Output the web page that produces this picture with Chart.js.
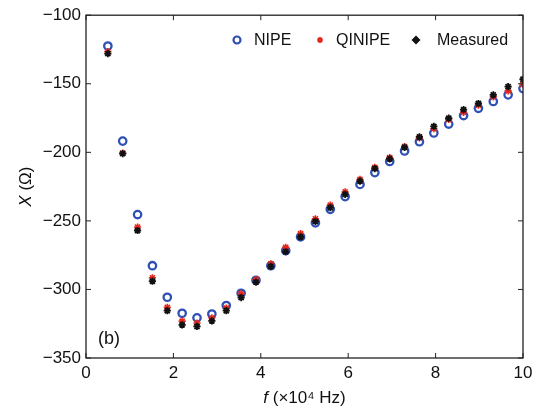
<!DOCTYPE html>
<html><head><meta charset="utf-8">
<script src="https://cdn.jsdelivr.net/npm/chart.js@4/dist/chart.umd.min.js"></script>
<style>html,body{margin:0;padding:0;background:#fff}#wrap{width:541px;height:411px}</style>
</head><body><div id="wrap"><canvas id="c" width="541" height="411"></canvas></div>
<script>
// Frequency (×10^4 Hz)
const frequencies = [0.5, 0.84, 1.18, 1.52, 1.86, 2.2, 2.54, 2.88, 3.21, 3.55, 3.89, 4.23, 4.57, 4.91, 5.25, 5.59, 5.93, 6.27, 6.61, 6.95, 7.29, 7.63, 7.96, 8.30, 8.64, 8.98, 9.32, 9.66, 10];
// Reactance X (Ω)
const nipe = [-122.5, -191.8, -245.4, -282.7, -305.7, -317.4, -320.7, -317.9, -311.7, -302.8, -293.3, -282.7, -271.7, -261.7, -251.4, -241.6, -232.3, -223.4, -214.8, -206.7, -199.0, -192.3, -185.9, -179.4, -173.2, -167.9, -162.9, -158.1, -153.5];
const qinipe = [-126.5, -200.5, -254.5, -291.5, -313.0, -323.1, -324.5, -320.7, -313.6, -303.0, -292.8, -281.3, -269.3, -259.3, -248.5, -238.5, -228.9, -219.8, -211.0, -203.8, -195.9, -189.5, -182.8, -176.0, -170.8, -165.6, -159.5, -155.2, -150.5];
const measured = [-128.0, -201.0, -257.0, -294.0, -315.5, -325.8, -327.0, -322.9, -315.5, -305.9, -294.7, -283.2, -272.5, -261.7, -250.4, -240.4, -230.6, -221.0, -211.9, -204.8, -196.4, -188.7, -181.1, -175.1, -168.9, -164.4, -158.1, -152.1, -146.7];
const seriesNames = ['NIPE', 'QINIPE', 'Measured'];
const xTicks = [0, 2, 4, 6, 8, 10];
const yTicks = [-350, -300, -250, -200, -150, -100];

const FONT = '"Liberation Sans", Arial, sans-serif';
const BLUE = '#2f50b4', RED = '#e5281c', BLACK = '#111111';
const toPts = ys => frequencies.map((f, i) => ({x: f, y: ys[i]}));
const fmt = v => String(v).replace('-', '\u2212');

const decor = {
  id: 'decor',
  afterDraw(chart) {
    const ctx = chart.ctx, a = chart.chartArea;
    const xs = chart.scales.x, ys = chart.scales.y;
    ctx.save();
    ctx.strokeStyle = '#222'; ctx.lineWidth = 1.3;
    ctx.strokeRect(a.left, a.top, a.right - a.left, a.bottom - a.top);
    ctx.lineWidth = 1;
    ctx.beginPath();
    xTicks.forEach(v => { const p = xs.getPixelForValue(v);
      ctx.moveTo(p, a.bottom); ctx.lineTo(p, a.bottom - 5);
      ctx.moveTo(p, a.top); ctx.lineTo(p, a.top + 5); });
    yTicks.forEach(v => { const p = ys.getPixelForValue(v);
      ctx.moveTo(a.left, p); ctx.lineTo(a.left + 5, p);
      ctx.moveTo(a.right, p); ctx.lineTo(a.right - 5, p); });
    ctx.stroke();

    ctx.fillStyle = '#111';
    // panel label
    ctx.font = '18px ' + FONT; ctx.textAlign = 'left'; ctx.textBaseline = 'alphabetic';
    ctx.fillText('(b)', a.left + 12, a.bottom - 14);

    // x title
    const cx = (a.left + a.right) / 2, by = 403;
    ctx.font = 'italic 17px ' + FONT; const wf = ctx.measureText('f').width;
    ctx.font = '17px ' + FONT; const rest = ' (\u00d710\u2074 Hz)'; const wr = ctx.measureText(rest).width;
    let sx = cx - (wf + wr) / 2;
    ctx.font = 'italic 17px ' + FONT; ctx.fillText('f', sx, by);
    ctx.font = '17px ' + FONT; ctx.fillText(rest, sx + wf, by);

    // y title
    ctx.save();
    ctx.translate(31, (a.top + a.bottom) / 2); ctx.rotate(-Math.PI / 2);
    ctx.font = 'italic 17px ' + FONT; const wX = ctx.measureText('X').width;
    ctx.font = '17px ' + FONT; const wO = ctx.measureText(' (\u03a9)').width;
    sx = -(wX + wO) / 2;
    ctx.font = 'italic 17px ' + FONT; ctx.fillText('X', sx, 0);
    ctx.font = '17px ' + FONT; ctx.fillText(' (\u03a9)', sx + wX, 0);
    ctx.restore();

    // legend
    const ly = 40;
    ctx.font = '16px ' + FONT; ctx.textBaseline = 'middle';
    const items = [[237, 254], [320, 336], [416, 437]];
    // NIPE circle
    ctx.strokeStyle = BLUE; ctx.lineWidth = 2.2;
    ctx.beginPath(); ctx.arc(items[0][0], ly, 3.5, 0, Math.PI * 2); ctx.stroke();
    // QINIPE star
    ctx.strokeStyle = RED; ctx.lineWidth = 1.6;
    ctx.beginPath();
    const r = 3;
    [[r,0],[0,r],[r*0.7,r*0.7],[r*0.7,-r*0.7]].forEach(([dx,dy]) => {
      ctx.moveTo(items[1][0]-dx, ly-dy); ctx.lineTo(items[1][0]+dx, ly+dy); });
    ctx.stroke();
    // Measured diamond
    ctx.fillStyle = BLACK;
    ctx.beginPath();
    const d = 4.5, mx = items[2][0];
    ctx.moveTo(mx, ly - d); ctx.lineTo(mx + d, ly); ctx.lineTo(mx, ly + d); ctx.lineTo(mx - d, ly); ctx.closePath(); ctx.fill();
    ctx.fillStyle = '#111';
    seriesNames.forEach((n, i) => ctx.fillText(n, items[i][1], ly + 1));
    ctx.restore();
  }
};

new Chart(document.getElementById('c'), {
  type: 'scatter',
  data: {
    datasets: [
      {label: seriesNames[0], data: toPts(nipe), order: 3, pointStyle: 'circle', pointRadius: 3.7, pointBorderWidth: 2.3, borderColor: BLUE, backgroundColor: 'rgba(0,0,0,0)', pointHoverRadius: 3.7},
      {label: seriesNames[1], data: toPts(qinipe), order: 2, pointStyle: 'star', pointRadius: 3.6, pointBorderWidth: 1.6, borderColor: RED, backgroundColor: RED, pointHoverRadius: 3.6},
      {label: seriesNames[2], data: toPts(measured), order: 1, pointStyle: 'star', pointRadius: 3.6, pointBorderWidth: 1.8, borderColor: BLACK, backgroundColor: BLACK, pointHoverRadius: 3.6}
    ]
  },
  options: {
    responsive: false, animation: false, devicePixelRatio: 1,
    layout: {padding: {left: 0, top: 12, right: 18, bottom: 0}},
    plugins: {legend: {display: false}, tooltip: {enabled: false}},
    scales: {
      x: {
        type: 'linear', min: 0, max: 10,
        grid: {display: false, drawTicks: false},
        border: {display: false},
        afterBuildTicks: s => { s.ticks = xTicks.map(v => ({value: v})); },
        afterFit: s => { s.height = 53; },
        ticks: {padding: 5, color: '#111', font: {family: FONT, size: 17}, maxRotation: 0, callback: fmt}
      },
      y: {
        type: 'linear', min: -350, max: -100,
        grid: {display: false, drawTicks: false},
        border: {display: false},
        afterBuildTicks: s => { s.ticks = yTicks.map(v => ({value: v})); },
        afterFit: s => { s.width = 86; },
        ticks: {padding: 5, color: '#111', font: {family: FONT, size: 17}, callback: fmt}
      }
    }
  },
  plugins: [decor]
});
</script></body></html>
